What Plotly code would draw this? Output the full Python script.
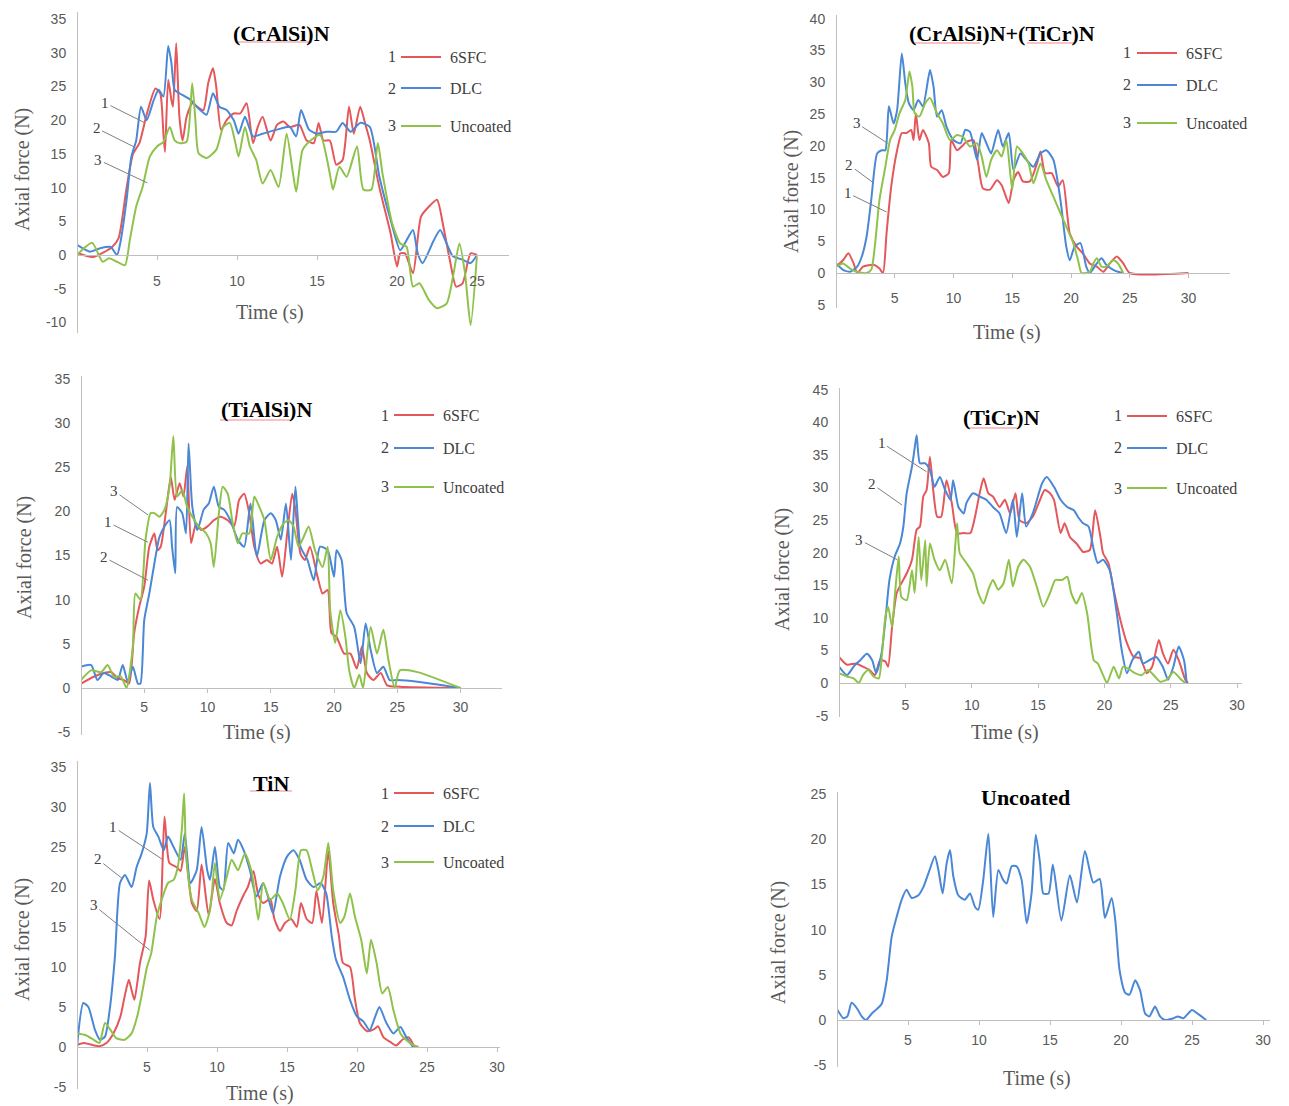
import plotly.graph_objects as go

W, H = 1289, 1106
RED, BLUE, GREEN = "#E4575B", "#4A87D6", "#8FC24B"
SERIES_NAMES = ["6SFC", "DLC", "Uncoated"]
X_LABEL = "Time (s)"
Y_LABEL = "Axial force (N)"

# ---------------- Panel 1: (CrAlSi)N ----------------
p1_6sfc_t = [0, 1.0, 2.2, 2.6, 3.1, 3.5, 3.9, 4.35, 4.9, 5.2, 5.4, 5.5, 5.7, 5.9, 6.0, 6.2, 6.4, 6.6, 6.85, 7.2, 7.5, 7.9, 8.2, 8.5, 8.7, 9.0, 9.35, 9.8, 10.2, 10.6, 11.0, 11.3, 11.6, 12.1, 12.5, 12.9, 13.3, 13.9, 14.35, 14.8, 15.1, 15.4, 15.8, 16.2, 16.6, 17.0, 17.3, 17.7, 18.0, 18.3, 18.9, 19.6, 20.0, 20.2, 20.5, 21.0, 21.5, 22.0, 22.5, 22.9, 23.3, 23.7, 24.1, 24.6, 25.0]
p1_6sfc_f = [0.3, -0.3, 1.2, 2.5, 10, 15, 16.6, 20.8, 24.7, 24, 18, 15.3, 26, 23, 22, 31.4, 20.5, 17, 20.5, 22.5, 22, 21.5, 25.5, 27.7, 25, 18.6, 20, 21, 21, 22.5, 16.6, 19, 20.5, 17, 19.3, 19.8, 19, 19.3, 17, 16.6, 19.6, 17, 17, 13.4, 14.1, 22, 18, 22, 19.6, 17, 10, 3.2, -1.7, 0.25, 0.25, -2.7, 5.7, 7.2, 8.2, 4.2, -0.7, -4.7, -4.2, 0.25, 0]
p1_dlc_t = [0, 0.8, 1.44, 2.1, 2.5, 2.7, 3.1, 3.4, 3.7, 4.0, 4.35, 4.8, 5.1, 5.4, 5.7, 5.9, 6.1, 6.4, 7.1, 7.7, 8.1, 8.5, 8.9, 9.35, 9.8, 10.1, 10.5, 11.0, 11.6, 12.5, 13.3, 13.7, 14.0, 14.5, 15.0, 15.6, 16.2, 16.6, 17.1, 17.7, 18.3, 18.9, 19.6, 20.2, 20.6, 21.0, 21.3, 21.6, 22.3, 22.7, 23.1, 23.5, 24.1, 24.6, 25.0]
p1_dlc_f = [1.5, 0.5, 1.0, 1.2, 0, 1.7, 8.2, 14.6, 17, 22, 20, 23, 24.5, 23.5, 31, 28.5, 24.5, 24, 23, 21.5, 20.8, 24, 22, 21.5, 20, 18, 20.5, 17.6, 18, 18.6, 19, 17.6, 21.5, 18.6, 18, 18.3, 18.3, 19.6, 18.3, 19.6, 19, 11.6, 5.2, 0.7, 2.2, 3.7, 0.2, -1.2, 2.2, 3.7, 1.7, -0.2, -0.7, -1.2, 0]
p1_unc_t = [0, 0.95, 1.6, 2.0, 2.5, 3.0, 3.3, 3.7, 4.1, 4.55, 5.0, 5.4, 5.8, 6.1, 6.4, 6.85, 7.2, 7.4, 7.6, 8.1, 8.7, 9.15, 9.55, 9.9, 10.1, 10.5, 10.8, 11.2, 11.6, 12.1, 12.6, 13.1, 13.5, 13.7, 14.1, 14.6, 15.2, 15.8, 16.0, 16.4, 16.85, 17.5, 17.9, 18.4, 18.8, 19.1, 19.7, 20.2, 20.6, 21.0, 21.4, 22.0, 22.5, 23.1, 23.5, 23.9, 24.25, 24.6, 25.0]
p1_unc_f = [0, 1.8, -1.0, -0.5, -1.0, -1.5, 2.2, 7.2, 10.1, 14.6, 16.1, 16.8, 19, 17, 16.6, 16.8, 25.5, 20, 15.1, 14.4, 15.6, 19, 19.6, 16.6, 14.6, 19, 16.1, 14.1, 10.6, 12.6, 10.1, 18, 12.1, 9.4, 15.6, 17, 17.8, 12.1, 9.7, 13.1, 11.6, 16.1, 9.7, 9.7, 16.6, 12, 4.7, 1.7, 1.2, -4.7, -4.2, -6.7, -7.9, -7.2, -3.2, 1.7, -2.7, -10.4, 0]

# ---------------- Panel 2: (CrAlSi)N+(TiCr)N ----------------
p2_6sfc_t = [0, 0.6, 1.05, 1.5, 1.8, 2.3, 3.2, 3.7, 4.0, 4.3, 4.7, 5.2, 5.6, 6.0, 6.4, 6.6, 6.8, 7.1, 7.4, 7.9, 8.1, 8.6, 9.1, 9.6, 9.8, 10.3, 10.7, 11.1, 11.7, 12.1, 12.5, 13.1, 13.7, 14.1, 14.7, 15.1, 15.5, 15.9, 16.5, 17.1, 17.4, 17.8, 18.35, 18.9, 19.3, 19.9, 20.5, 21.0, 21.6, 22.2, 22.75, 23.3, 23.9, 24.45, 25.0, 30.0]
p2_6sfc_f = [1.0, 2.0, 3.1, 1.5, 0, 1.0, 1.3, 0.7, 0, 6.2, 13.6, 19.3, 22, 22, 22.5, 20.9, 25.1, 20.9, 22.5, 20.4, 16.7, 16.2, 15.1, 15.7, 20.9, 19.3, 19.9, 20.6, 20.9, 17.2, 13.3, 13.1, 14.6, 13.8, 11.0, 14.6, 15.9, 14.4, 14.4, 17.2, 19.1, 15.7, 15.7, 13.6, 14.6, 6.2, 4.1, 3.1, 1.5, 1.0, 0.2, 1.5, 2.6, 1.5, 0, 0]
p2_dlc_t = [0, 0.6, 1.2, 1.8, 2.2, 2.6, 3.0, 3.5, 3.9, 4.2, 4.5, 4.9, 5.2, 5.6, 5.9, 6.2, 6.6, 7.0, 7.4, 8.0, 8.3, 8.6, 9.0, 9.4, 10.0, 10.6, 11.0, 11.4, 12.0, 12.4, 12.8, 13.2, 13.8, 14.2, 14.7, 15.1, 15.7, 16.2, 16.8, 17.4, 17.9, 18.5, 19.1, 19.6, 19.9, 20.3, 20.8, 21.3, 21.6, 22.2, 22.6, 23.0, 23.6, 24.0, 24.45]
p2_dlc_f = [1.5, 0.5, 0.2, 1.0, 2.6, 5.7, 11.5, 18.8, 19.3, 19.3, 26.2, 23.5, 25.6, 34.5, 29.8, 26.7, 25.6, 27.2, 26.2, 31.9, 29.3, 24.6, 25.6, 23.0, 20.9, 20.4, 22.5, 22.2, 17.8, 22.0, 20.4, 18.8, 22.5, 19.9, 22.0, 16.2, 18.8, 17.8, 16.7, 18.8, 19.3, 17.8, 11.5, 4.1, 2.0, 4.1, 4.7, 1.0, 0, 1.5, 2.3, 1.3, 0.5, 0.2, 0]
p2_unc_t = [0, 0.6, 1.2, 1.8, 2.6, 3.0, 3.3, 3.7, 4.2, 4.6, 5.0, 5.4, 5.9, 6.25, 6.5, 6.7, 7.1, 7.6, 8.0, 8.6, 9.1, 9.7, 10.3, 10.8, 11.4, 12.0, 12.4, 12.8, 13.2, 13.7, 14.1, 14.5, 15.0, 15.4, 15.9, 16.4, 16.8, 17.4, 17.9, 18.5, 19.1, 19.6, 20.2, 20.6, 20.9, 21.6, 21.9, 22.2, 22.6, 23.0, 23.6, 24.0, 24.45]
p2_unc_f = [1.0, 1.5, 0.7, 0.2, 0, 0.5, 4.1, 11.5, 16.7, 20.9, 22.5, 25.1, 27.2, 31.7, 29.3, 25.1, 24.6, 26.7, 27.5, 25.1, 23.5, 20.9, 21.7, 21.4, 19.9, 20.4, 18.3, 15.1, 17.8, 19.3, 18.3, 20.9, 13.1, 19.9, 18.8, 17.2, 14.1, 17.2, 14.6, 12.0, 9.4, 7.3, 4.7, 2.0, 0, 0.2, 1.5, 2.3, 1.0, 1.0, 2.0, 1.5, 0]

# ---------------- Panel 3: (TiAlSi)N ----------------
p3_6sfc_t = [0, 1.05, 1.8, 2.4, 2.9, 3.4, 3.8, 4.2, 4.6, 5.0, 5.4, 5.8, 6.05, 6.3, 6.7, 7.1, 7.4, 7.8, 8.1, 8.4, 8.7, 9.1, 9.5, 10.0, 10.5, 11.0, 11.6, 12.1, 12.5, 12.9, 13.3, 13.7, 14.2, 14.7, 15.1, 15.5, 15.9, 16.3, 16.7, 16.95, 17.35, 17.7, 18.1, 18.7, 19.1, 19.5, 19.8, 20.2, 20.8, 21.3, 21.8, 22.2, 22.6, 23.1, 23.7, 24.2, 25.2, 30.0]
p3_6sfc_f = [0.5, 1.3, 1.7, 1.8, 1.1, 0.9, 0.5, 6.2, 9.2, 11.5, 16, 17.5, 15.6, 16, 19.8, 23.9, 21.3, 23.2, 21.7, 25.1, 16.4, 18.6, 17.9, 18.3, 19.0, 19.4, 19.0, 18.3, 21.3, 22.0, 19.8, 16.0, 14.1, 14.5, 14.1, 16.0, 12.6, 17.5, 22.0, 20.2, 15.2, 14.5, 16.0, 12.6, 10.7, 11.1, 6.2, 5.8, 3.9, 3.9, 2.2, 4.7, 1.7, 0.9, 1.7, 0.3, 0.15, 0]
p3_dlc_t = [0, 0.8, 1.3, 1.8, 2.4, 2.9, 3.3, 3.7, 4.1, 4.5, 4.7, 5.0, 5.4, 5.8, 6.2, 6.6, 7.0, 7.2, 7.45, 7.6, 8.0, 8.3, 8.5, 8.8, 9.2, 9.7, 10.1, 10.5, 10.9, 11.3, 11.8, 12.4, 12.9, 13.4, 13.9, 14.5, 15.0, 15.4, 15.8, 16.2, 16.6, 16.95, 17.35, 17.9, 18.4, 18.9, 19.5, 20.0, 20.2, 20.6, 21.0, 21.6, 22.1, 22.5, 22.9, 23.4, 23.9, 24.4, 25.0, 26.6, 30.0]
p3_dlc_f = [2.4, 2.6, 0.9, 1.7, 1.3, 0.9, 2.6, 0.7, 2.4, 0.5, 0.5, 7.7, 10.7, 14.1, 17.1, 18.3, 19.0, 16.0, 13.0, 20.5, 19.8, 17.5, 27.7, 20.5, 17.9, 20.2, 20.9, 22.8, 20.5, 20.2, 19.0, 16.8, 16.0, 20.9, 14.9, 19.0, 19.8, 19.0, 16.8, 20.9, 14.5, 22.8, 16.0, 14.5, 12.2, 16.0, 15.6, 12.6, 15.6, 14.5, 8.5, 6.9, 2.8, 7.3, 4.3, 1.7, 2.4, 0.9, 0.9, 0.7, 0]
p3_unc_t = [0, 0.8, 1.6, 2.1, 2.6, 3.15, 3.6, 4.1, 4.3, 4.7, 5.1, 5.5, 5.8, 6.2, 6.6, 7.0, 7.3, 7.6, 8.0, 8.4, 8.8, 9.3, 9.9, 10.25, 10.5, 10.9, 11.2, 11.6, 12.0, 12.4, 12.75, 13.3, 13.7, 14.1, 14.5, 15.0, 15.5, 16.0, 16.4, 16.8, 17.2, 17.6, 18.0, 18.5, 19.1, 19.5, 19.7, 20.1, 20.5, 20.9, 21.2, 21.6, 22.0, 22.3, 22.9, 23.4, 23.9, 24.3, 24.8, 25.2, 26.6, 30.0]
p3_unc_f = [0.9, 2.0, 1.8, 2.6, 1.3, 1.3, 0, 4.7, 10.7, 10.0, 16.8, 19.8, 19.8, 19.4, 20.2, 22.8, 28.5, 21.7, 22.4, 20.5, 19.4, 18.3, 17.5, 16.4, 13.7, 19.8, 22.8, 22.0, 18.6, 16.4, 17.5, 17.5, 21.7, 20.5, 19.0, 14.5, 17.1, 18.6, 19.0, 18.3, 16.0, 17.1, 18.3, 15.6, 13.7, 16.0, 8.8, 5.1, 8.8, 5.8, 2.0, 0, 1.5, 0, 6.9, 3.9, 6.6, 3.2, 0, 2.0, 1.8, 0]

# ---------------- Panel 4: (TiCr)N ----------------
p4_6sfc_t = [0, 0.6, 1.3, 1.8, 2.3, 2.7, 3.1, 3.5, 3.7, 4.0, 4.35, 4.7, 5.1, 5.5, 5.85, 6.1, 6.35, 6.6, 6.85, 7.1, 7.4, 7.7, 8.1, 8.5, 8.9, 9.4, 9.9, 10.25, 10.6, 10.9, 11.25, 11.6, 12.1, 12.5, 12.9, 13.3, 13.6, 14.1, 14.6, 15.15, 15.5, 15.9, 16.2, 16.7, 17.0, 17.4, 17.9, 18.4, 18.9, 19.3, 19.7, 19.9, 20.3, 20.7, 21.2, 21.7, 22.2, 22.7, 23.2, 23.6, 24.1, 24.4, 24.8, 25.2, 25.6, 26.1, 26.3]
p4_6sfc_f = [4.0, 2.8, 3.0, 2.5, 2.0, 1.2, 3.5, 3.3, 2.5, 8.6, 13.8, 15.3, 16.8, 18.9, 23.5, 24.0, 28.6, 29.6, 34.7, 29.6, 25.5, 25.5, 31.1, 27.6, 23.0, 23.0, 23.0, 25.5, 29.1, 31.4, 29.1, 28.6, 27.0, 28.1, 26.0, 29.1, 25.0, 24.5, 25.5, 28.1, 29.6, 29.1, 28.1, 23.0, 24.5, 22.4, 21.4, 20.1, 20.4, 26.5, 22.4, 19.9, 18.4, 14.3, 9.7, 6.1, 4.0, 3.8, 1.5, 2.5, 6.6, 4.6, 3.0, 5.1, 3.5, 0.5, 0]
p4_dlc_t = [0, 0.6, 1.1, 1.6, 2.1, 2.5, 2.8, 3.2, 3.5, 3.8, 4.2, 4.6, 4.85, 5.1, 5.5, 5.7, 5.85, 6.1, 6.5, 6.85, 7.2, 7.6, 8.0, 8.4, 8.6, 9.0, 9.4, 9.6, 10.1, 10.6, 11.1, 11.6, 12.1, 12.6, 13.1, 13.4, 13.8, 14.1, 14.6, 15.3, 15.65, 16.2, 16.7, 17.2, 17.7, 18.0, 18.4, 18.8, 19.2, 19.5, 19.9, 20.4, 20.9, 21.3, 21.7, 22.1, 22.6, 22.9, 23.4, 23.9, 24.4, 24.8, 25.2, 25.6, 26.0, 26.2]
p4_dlc_f = [2.5, 1.2, 2.5, 3.5, 4.5, 3.5, 1.5, 4.5, 9.7, 15.8, 19.4, 21.4, 24.0, 29.1, 33.2, 36.0, 38.0, 33.7, 33.7, 32.7, 30.1, 31.6, 29.6, 28.1, 31.1, 27.0, 26.0, 27.6, 29.1, 28.6, 28.1, 27.0, 26.0, 23.0, 28.1, 22.4, 29.1, 24.0, 26.0, 30.6, 31.6, 30.1, 28.1, 27.0, 26.5, 25.5, 24.5, 24.0, 20.4, 18.4, 18.9, 17.3, 11.2, 5.1, 1.5, 3.5, 4.8, 3.0, 3.5, 4.0, 2.5, 0.5, 2.5, 5.6, 3.5, 0]
p4_unc_t = [0, 0.6, 1.1, 1.5, 1.8, 2.2, 2.6, 3.0, 3.2, 3.5, 3.7, 4.0, 4.2, 4.5, 4.7, 5.1, 5.5, 5.7, 6.0, 6.2, 6.5, 6.6, 6.85, 7.2, 7.6, 8.0, 8.5, 8.9, 9.1, 9.6, 10.1, 10.5, 10.9, 11.25, 11.6, 12.0, 12.4, 12.8, 13.1, 13.5, 13.9, 14.4, 14.9, 15.4, 15.9, 16.3, 16.8, 17.2, 17.5, 17.9, 18.3, 18.7, 19.2, 19.5, 19.9, 20.2, 20.7, 21.1, 21.4, 21.8, 22.3, 22.8, 23.3, 23.8, 24.2, 24.7, 25.2, 25.7, 26.1]
p4_unc_f = [1.5, 1.0, 0.7, 0, 1.2, 2.0, 1.0, 0.7, 3.5, 10.2, 11.7, 8.6, 13.2, 19.4, 13.2, 12.7, 17.3, 13.8, 22.4, 15.8, 21.9, 14.8, 21.4, 18.9, 17.3, 18.9, 15.3, 24.5, 19.9, 18.4, 16.8, 13.8, 12.2, 14.3, 15.8, 14.3, 15.3, 18.9, 14.8, 17.8, 18.9, 17.8, 14.8, 11.7, 13.8, 15.8, 15.8, 16.3, 13.8, 12.2, 13.8, 10.7, 3.5, 3.0, 1.2, 0, 2.5, 0.7, 2.5, 2.2, 1.5, 1.2, 2.0, 1.0, 0.2, 0.5, 1.7, 0.7, 0]

# ---------------- Panel 5: TiN ----------------
p5_6sfc_t = [0.0, 0.5, 1.2, 1.6, 2.1, 2.6, 3.1, 3.4, 3.7, 3.9, 4.1, 4.5, 4.9, 5.15, 5.45, 5.9, 6.25, 6.6, 7.1, 7.4, 7.7, 8.2, 8.55, 8.9, 9.4, 9.85, 10.2, 10.7, 11.05, 11.4, 11.9, 12.2, 12.6, 12.95, 13.3, 13.8, 14.1, 14.5, 14.85, 15.3, 15.7, 16.0, 16.4, 16.8, 17.1, 17.5, 17.95, 18.3, 18.7, 19.0, 19.5, 19.85, 20.2, 20.7, 21.2, 21.5, 21.9, 22.4, 22.8, 23.3, 23.7, 24.1]
p5_6sfc_f = [0.25, 0.5, 0.2, 0.1, 0.5, 1.7, 3.8, 6.3, 8.4, 7.1, 5.9, 10.5, 13.8, 20.8, 18.4, 16, 28.8, 23, 22.5, 22, 25, 18, 17, 22.8, 16.5, 21, 18, 15.5, 15.2, 17, 19, 20, 22, 19, 18, 18.5, 16, 14.5, 15.5, 16, 15, 18, 16, 15.5, 19.5, 15.5, 24.5, 18, 14, 10.5, 10, 6, 3, 2, 2.2, 2.6, 1.2, 0.6, 0.2, 1.0, 1.2, 0]
p5_dlc_t = [0, 0.45, 0.81, 1.29, 1.64, 2.0, 2.36, 2.71, 3.07, 3.43, 3.9, 4.26, 4.62, 4.98, 5.21, 5.45, 5.81, 6.2, 6.5, 6.9, 7.4, 7.7, 8.1, 8.55, 8.9, 9.3, 9.5, 9.85, 10.2, 10.45, 10.8, 11.2, 11.5, 11.9, 12.35, 12.8, 13.3, 13.7, 14.0, 14.5, 15.0, 15.45, 15.9, 16.4, 16.9, 17.4, 17.8, 18.2, 18.5, 19.0, 19.5, 20.0, 20.45, 20.9, 21.3, 21.6, 22.1, 22.6, 23.1, 23.5, 24.0]
p5_dlc_f = [0, 5.5, 5.0, 2.1, 0.9, 1.3, 5.0, 11.3, 20.5, 21.5, 20.0, 22.5, 24.2, 26.7, 33.0, 27.5, 26.3, 24.6, 26.3, 25.0, 23.4, 26.7, 20.5, 22.1, 27.5, 22.1, 20.9, 25.0, 20.0, 19.6, 25.5, 24.2, 25.9, 24.6, 22.1, 18.8, 20.5, 18.4, 16.7, 21.3, 23.8, 24.6, 23.4, 20.9, 20.0, 20.5, 19.2, 13.8, 10.9, 8.8, 5.9, 3.8, 3.2, 2.1, 3.8, 5.0, 3.0, 1.7, 2.5, 1.3, 0]
p5_unc_t = [0, 0.6, 1.2, 1.6, 2.0, 2.4, 2.8, 3.4, 3.9, 4.3, 4.6, 5.0, 5.3, 5.7, 6.2, 6.5, 6.9, 7.2, 7.5, 7.65, 7.8, 8.2, 8.7, 9.1, 9.5, 9.85, 10.2, 10.7, 11.05, 11.5, 12.0, 12.5, 12.95, 13.3, 13.8, 14.3, 14.7, 15.2, 15.6, 16.0, 16.4, 16.8, 17.2, 17.6, 17.95, 18.3, 18.8, 19.1, 19.5, 19.85, 20.3, 20.7, 21.0, 21.4, 21.8, 22.2, 22.6, 23.1, 23.5, 24.0, 24.4]
p5_unc_f = [1.7, 1.5, 0.9, 0.5, 3.0, 2.1, 1.1, 0.9, 1.7, 3.8, 6.3, 10.0, 11.7, 16.3, 19.2, 20.5, 20.9, 22.5, 27.5, 31.7, 23.8, 18.4, 16.7, 15.0, 17.1, 23.0, 18.4, 21.3, 23.4, 22.1, 24.2, 21.7, 15.9, 20.5, 18.4, 19.2, 18.0, 15.9, 19.6, 24.6, 24.6, 22.1, 19.6, 21.3, 25.5, 19.6, 15.5, 16.3, 19.2, 16.3, 13.4, 9.2, 13.4, 10.5, 6.7, 7.5, 4.6, 1.7, 0.9, 0.25, 0]

# ---------------- Panel 6: Uncoated ----------------
p6_unc_t = [0, 0.45, 0.73, 1.03, 1.4, 1.74, 2.04, 2.44, 2.8, 3.15, 3.5, 3.85, 4.2, 4.55, 4.9, 5.26, 5.73, 6.08, 6.43, 6.9, 7.14, 7.44, 7.72, 7.96, 8.19, 8.54, 9.0, 9.37, 9.72, 9.95, 10.3, 10.66, 11.0, 11.36, 11.7, 11.95, 12.3, 12.65, 13.0, 13.36, 13.7, 14.0, 14.3, 14.53, 14.9, 15.2, 15.8, 16.4, 16.9, 17.46, 18.05, 18.5, 18.87, 19.34, 19.6, 19.9, 20.3, 20.6, 21.0, 21.34, 21.7, 22.0, 22.4, 22.75, 23.1, 23.7, 24.0, 24.4, 25.0, 25.4, 26.0]
p6_unc_f = [1.2, 0.2, 0.4, 1.9, 1.3, 0.4, 0, 0.7, 1.2, 1.8, 4.4, 9.2, 11.4, 13.3, 14.4, 13.5, 13.8, 14.7, 16.2, 18.1, 16.6, 14.0, 17.3, 18.8, 15.9, 13.8, 13.3, 14.0, 12.5, 12.2, 15.5, 20.6, 11.4, 16.6, 15.5, 15.1, 17.0, 17.0, 15.5, 10.7, 14.0, 20.5, 17.3, 14.0, 14.0, 17.2, 11.0, 16.0, 13.0, 18.7, 15.2, 15.6, 11.3, 13.5, 11.0, 5.5, 3.0, 2.8, 4.4, 3.3, 0.7, 0.4, 1.5, 0.4, 0, 0.2, 0.4, 0.2, 1.1, 0.7, 0]

# ---------------- Panel titles / tick labels ----------------
panel_titles = ["(CrAlSi)N", "(CrAlSi)N+(TiCr)N", "(TiAlSi)N", "(TiCr)N", "TiN", "Uncoated"]
ytick_vals = [
    [-10, -5, 0, 5, 10, 15, 20, 25, 30, 35],
    [-5, 0, 5, 10, 15, 20, 25, 30, 35, 40],
    [-5, 0, 5, 10, 15, 20, 25, 30, 35],
    [-5, 0, 5, 10, 15, 20, 25, 30, 35, 40, 45],
    [-5, 0, 5, 10, 15, 20, 25, 30, 35],
    [-5, 0, 5, 10, 15, 20, 25],
]
ytick_text = [
    ["-10", "-5", "0", "5", "10", "15", "20", "25", "30", "35"],
    ["5", "0", "5", "10", "15", "20", "25", "30", "35", "40"],
    ["-5", "0", "5", "10", "15", "20", "25", "30", "35"],
    ["-5", "0", "5", "10", "15", "20", "25", "30", "35", "40", "45"],
    ["-5", "0", "5", "10", "15", "20", "25", "30", "35"],
    ["-5", "0", "5", "10", "15", "20", "25"],
]
xtick_vals = [
    [5, 10, 15, 20, 25],
    [5, 10, 15, 20, 25, 30],
    [5, 10, 15, 20, 25, 30],
    [5, 10, 15, 20, 25, 30],
    [5, 10, 15, 20, 25, 30],
    [5, 10, 15, 20, 25, 30],
]

# ---------------- layout geometry (pixels) ----------------
geom = [
    dict(x0=77, xs=16.0, xmax=27.0, zero=255, ys=6.74, ymin=-11.5, ymax=36.0, xstand=9,
         title=(281, 33), ytitle=(23, 170), xtitle=(270, 313), ul=[(235, 312, 42)],
         leg=[(392, 401, 57), (392, 401, 88), (392, 401, 126)],
         arrows=[(4.25, 19.6, -40, -20), (3.6, 16.0, -38, -19), (4.4, 10.7, -49, -23)]),
    dict(x0=836, xs=11.75, xmax=33.5, zero=273, ys=6.36, ymin=-5.5, ymax=40.5, xstand=8,
         title=(1002, 33), ytitle=(792, 192), xtitle=(1007, 332), ul=[(913, 980, 43), (1027, 1075, 43)],
         leg=[(1127, 1137, 53), (1127, 1137, 85), (1127, 1137, 123)],
         arrows=[(4.3, 9.6, -39, -19), (3.1, 14.3, -23, -17), (4.4, 20.4, -31, -20)]),
    dict(x0=81, xs=12.65, xmax=33.3, zero=688, ys=8.83, ymin=-5.3, ymax=35.3, xstand=2,
         title=(266, 409), ytitle=(24, 558), xtitle=(257, 732), ul=[(220, 290, 420)],
         leg=[(385, 394, 415), (385, 394, 448), (385, 394, 487)],
         arrows=[(5.3, 16.5, -40, -20), (5.3, 12.2, -44, -23), (5.3, 19.6, -34, -24)]),
    dict(x0=839, xs=13.27, xmax=30.4, zero=683, ys=6.52, ymin=-5.2, ymax=45.2, xstand=5,
         title=(1001, 417), ytitle=(782, 570), xtitle=(1005, 732), ul=[(967, 1017, 428)],
         leg=[(1118, 1127, 416), (1118, 1127, 448), (1118, 1127, 488)],
         arrows=[(6.6, 32.4, -45, -29), (4.75, 27.3, -30, -21), (4.4, 18.9, -38, -20)]),
    dict(x0=77, xs=14.0, xmax=30.2, zero=1047, ys=8.0, ymin=-5.2, ymax=35.8, xstand=3,
         title=(271, 783), ytitle=(22, 940), xtitle=(260, 1093), ul=[(250, 292, 791)],
         leg=[(385, 394, 793), (385, 394, 826), (385, 394, 862)],
         arrows=[(6.15, 23.4, -50, -33), (3.2, 21.1, -24, -19), (5.2, 12.1, -56, -45)]),
    dict(x0=837, xs=14.2, xmax=30.5, zero=1020, ys=9.04, ymin=-5.2, ymax=25.2, xstand=3,
         title=(1025, 797), ytitle=(778, 942), xtitle=(1037, 1078), ul=[],
         leg=[], arrows=[]),
]

panel_series = [
    [(p1_6sfc_t, p1_6sfc_f, RED), (p1_dlc_t, p1_dlc_f, BLUE), (p1_unc_t, p1_unc_f, GREEN)],
    [(p2_6sfc_t, p2_6sfc_f, RED), (p2_dlc_t, p2_dlc_f, BLUE), (p2_unc_t, p2_unc_f, GREEN)],
    [(p3_6sfc_t, p3_6sfc_f, RED), (p3_dlc_t, p3_dlc_f, BLUE), (p3_unc_t, p3_unc_f, GREEN)],
    [(p4_6sfc_t, p4_6sfc_f, RED), (p4_dlc_t, p4_dlc_f, BLUE), (p4_unc_t, p4_unc_f, GREEN)],
    [(p5_6sfc_t, p5_6sfc_f, RED), (p5_dlc_t, p5_dlc_f, BLUE), (p5_unc_t, p5_unc_f, GREEN)],
    [(p6_unc_t, p6_unc_f, BLUE)],
]

SERIF = "Liberation Serif"
SANS = "Liberation Sans"
AXIS_GRAY = "#BFBFBF"
TEXT_GRAY = "#595959"
NBSP = "\u00a0"


def px(xp):
    return xp / W


def py(yp):
    return 1 - yp / H


def paper_text(x, y, text, size, color, angle=0, family=SERIF):
    return dict(x=px(x), y=py(y), xref="paper", yref="paper", text=text, showarrow=False,
                xanchor="center", yanchor="middle", textangle=angle,
                font=dict(family=family, size=size, color=color))


fig = go.Figure()
layout = dict(width=W, height=H, margin=dict(l=0, r=0, t=0, b=0, pad=0, autoexpand=False),
              paper_bgcolor="white", plot_bgcolor="white", showlegend=True)
annotations = []
shapes = []
leg_count = 0

for i, g in enumerate(geom):
    sfx = "" if i == 0 else str(i + 1)
    xd = [px(g["x0"]), px(g["x0"] + g["xmax"] * g["xs"])]
    yd = [py(g["zero"] - g["ymin"] * g["ys"]), py(g["zero"] - g["ymax"] * g["ys"])]
    layout["xaxis" + sfx] = dict(
        domain=xd, range=[0, g["xmax"]], anchor="free", position=py(g["zero"]),
        showline=True, linecolor=AXIS_GRAY, linewidth=1, showgrid=False, zeroline=False,
        tickmode="array", tickvals=xtick_vals[i], ticks="outside", ticklen=4, tickcolor=AXIS_GRAY,
        tickfont=dict(family=SANS, size=14, color=TEXT_GRAY), ticklabelstandoff=g["xstand"],
        fixedrange=True, automargin=False,
    )
    layout["yaxis" + sfx] = dict(
        domain=yd, range=[g["ymin"], g["ymax"]], anchor="free", position=px(g["x0"]),
        showline=True, linecolor=AXIS_GRAY, linewidth=1, showgrid=False, zeroline=False,
        tickmode="array", tickvals=ytick_vals[i], ticktext=ytick_text[i], ticks="",
        tickfont=dict(family=SANS, size=14, color=TEXT_GRAY), ticklabelstandoff=8,
        fixedrange=True, automargin=False,
    )
    for si, (t, f, color) in enumerate(panel_series[i]):
        tr = dict(x=t, y=f, mode="lines", xaxis="x" + sfx, yaxis="y" + sfx,
                  line=dict(color=color, width=2, shape="spline", smoothing=0.6),
                  hoverinfo="x+y")
        if g["leg"]:
            leg_count += 1
            lid = "legend" if leg_count == 1 else "legend%d" % leg_count
            num_x, line_x, yc = g["leg"][si]
            tr.update(name=NBSP + SERIES_NAMES[si], legend=lid, showlegend=True)
            layout[lid] = dict(x=px(line_x - 5), y=py(yc), xanchor="left", yanchor="middle",
                               bgcolor="rgba(0,0,0,0)", borderwidth=0, itemwidth=40,
                               font=dict(family=SERIF, size=16, color="#404040"))
            annotations.append(paper_text(num_x, yc, str(si + 1), 16, "#404040"))
        else:
            tr.update(name="Uncoated", showlegend=False)
        fig.add_trace(go.Scatter(**tr))
    # arrow labels
    for ai, (ax_, ay_, dx, dy) in enumerate(g["arrows"]):
        annotations.append(dict(x=ax_, y=ay_, xref="x" + sfx, yref="y" + sfx, text=str(ai + 1),
                                showarrow=True, arrowhead=0, arrowwidth=1, arrowcolor="#7F7F7F",
                                ax=dx, ay=dy, axref="pixel", ayref="pixel", standoff=0,
                                font=dict(family=SERIF, size=15, color="#404040")))
    # title
    annotations.append(paper_text(g["title"][0], g["title"][1], "<b>%s</b>" % panel_titles[i], 22, "black"))
    for (ux0, ux1, uy) in g["ul"]:
        shapes.append(dict(type="line", xref="paper", yref="paper", x0=px(ux0), x1=px(ux1),
                           y0=py(uy), y1=py(uy), line=dict(color="#EE8A8A", width=1.2)))
    # axis titles
    annotations.append(paper_text(g["ytitle"][0], g["ytitle"][1], Y_LABEL, 20, TEXT_GRAY, angle=-90))
    annotations.append(paper_text(g["xtitle"][0], g["xtitle"][1], X_LABEL, 20, TEXT_GRAY))

layout["annotations"] = annotations
layout["shapes"] = shapes
fig.update_layout(**layout)

fig.write_html("out.html", config={"displayModeBar": False},
               post_script="document.body.style.margin='0';document.body.style.overflow='hidden';")
